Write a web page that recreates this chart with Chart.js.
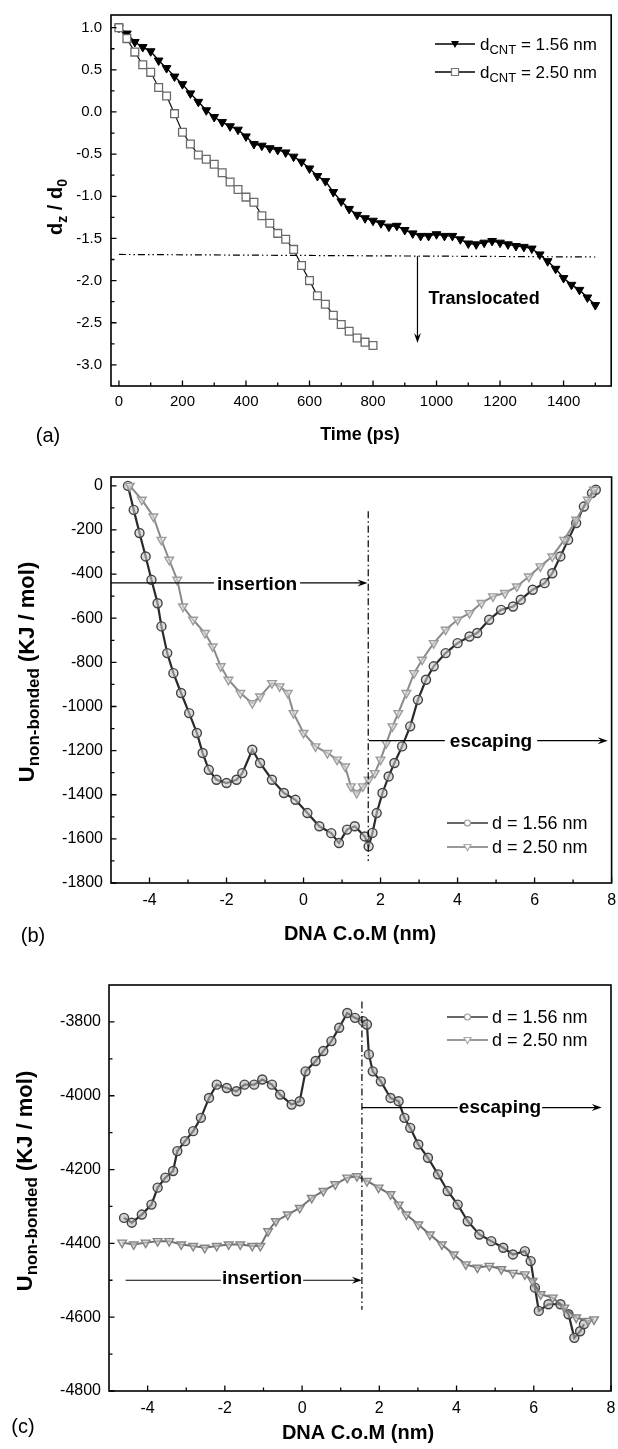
<!DOCTYPE html>
<html>
<head>
<meta charset="utf-8">
<script src="https://cdn.jsdelivr.net/npm/chart.js@4.4.1/dist/chart.umd.min.js"></script>
<style>
  body { margin: 0; background: #fff; width: 618px; height: 1449px; overflow: hidden; position: relative; }
  canvas { position: absolute; left: 0; }
</style>
</head>
<body>
<canvas id="ca" width="618" height="470" style="top:0"></canvas>
<canvas id="cb" width="618" height="505" style="top:470px"></canvas>
<canvas id="cc" width="618" height="474" style="top:975px"></canvas>
<script>
// ---- panel (a): d_z / d_0 vs time ----
const aTime = [0,25,50,75,100,125,150,175,200,225,250,275,300,325,350,375,400,425,450,475,500,525,550,575,600,625,650,675,700,725,750,775,800,825,850,875,900,925,950,975,1000,1025,1050,1075,1100,1125,1150,1175,1200,1225,1250,1275,1300,1325,1350,1375,1400,1425,1450,1475,1500];
const aCnt156 = [1.00,0.93,0.83,0.77,0.72,0.61,0.52,0.42,0.33,0.22,0.12,0.02,-0.06,-0.12,-0.17,-0.21,-0.29,-0.38,-0.40,-0.43,-0.45,-0.48,-0.53,-0.59,-0.67,-0.76,-0.82,-0.95,-1.06,-1.15,-1.22,-1.26,-1.29,-1.32,-1.36,-1.35,-1.40,-1.44,-1.47,-1.47,-1.45,-1.47,-1.47,-1.51,-1.56,-1.57,-1.55,-1.53,-1.55,-1.57,-1.59,-1.60,-1.62,-1.69,-1.77,-1.86,-1.97,-2.05,-2.11,-2.20,-2.29];
const aTime250 = [0,25,50,75,100,125,150,175,200,225,250,275,300,325,350,375,400,425,450,475,500,525,550,575,600,625,650,675,700,725,750,775,800];
const aCnt250 = [1.00,0.87,0.71,0.56,0.47,0.29,0.19,-0.02,-0.24,-0.38,-0.51,-0.56,-0.62,-0.72,-0.83,-0.92,-1.01,-1.07,-1.23,-1.32,-1.44,-1.51,-1.63,-1.82,-2.00,-2.18,-2.28,-2.41,-2.52,-2.60,-2.68,-2.73,-2.77];
const aXTicks = [0,200,400,600,800,1000,1200,1400];
const aXLabels = ['0','200','400','600','800','1000','1200','1400'];
const aXMinor = [100,300,500,700,900,1100,1300,1500];
const aYTicks = [-3.0,-2.5,-2.0,-1.5,-1.0,-0.5,0.0,0.5,1.0];
const aYLabels = ['-3.0','-2.5','-2.0','-1.5','-1.0','-0.5','0.0','0.5','1.0'];
const aYMinor = [-2.75,-2.25,-1.75,-1.25,-0.75,-0.25,0.25,0.75];

// ---- panel (b): U non-bonded vs DNA C.o.M ----
const bD156X = [-4.56,-4.41,-4.26,-4.10,-3.95,-3.79,-3.69,-3.54,-3.38,-3.18,-2.97,-2.77,-2.62,-2.46,-2.26,-2.00,-1.74,-1.59,-1.33,-1.13,-0.82,-0.51,-0.21,0.10,0.41,0.72,0.92,1.13,1.33,1.59,1.69,1.79,1.90,2.05,2.21,2.36,2.56,2.77,2.97,3.18,3.38,3.69,4.00,4.31,4.51,4.82,5.13,5.44,5.64,5.95,6.26,6.46,6.67,6.87,7.08,7.28,7.49,7.59];
const bD156Y = [0,-109,-214,-320,-426,-532,-637,-758,-849,-939,-1030,-1120,-1211,-1287,-1332,-1347,-1332,-1302,-1196,-1256,-1332,-1392,-1423,-1483,-1543,-1574,-1619,-1558,-1543,-1589,-1634,-1573,-1483,-1392,-1317,-1256,-1181,-1090,-970,-879,-818,-758,-713,-683,-667,-607,-562,-547,-516,-471,-441,-396,-320,-245,-169,-94,-33,-18];
const bD250X = [-4.51,-4.20,-3.90,-3.69,-3.49,-3.28,-3.13,-2.87,-2.56,-2.36,-2.15,-1.95,-1.64,-1.33,-1.13,-0.82,-0.62,-0.41,-0.26,0.00,0.31,0.62,0.87,1.08,1.23,1.38,1.54,1.69,1.85,2.00,2.15,2.31,2.46,2.67,2.87,3.08,3.38,3.69,4.00,4.31,4.62,4.92,5.23,5.54,5.85,6.15,6.46,6.77,7.08,7.38,7.54];
const bD250Y = [0,-63,-139,-245,-335,-426,-547,-607,-667,-728,-818,-879,-939,-985,-955,-894,-909,-939,-1030,-1120,-1181,-1211,-1241,-1272,-1362,-1392,-1362,-1332,-1302,-1241,-1166,-1090,-1030,-939,-849,-788,-713,-652,-607,-577,-531,-501,-486,-456,-411,-365,-320,-245,-154,-63,-18];
const bXTicks = [-4,-2,0,2,4,6,8];
const bXLabels = ['-4','-2','0','2','4','6','8'];
const bXMinor = [-3,-1,1,3,5,7];
const bYTicks = [-1800,-1600,-1400,-1200,-1000,-800,-600,-400,-200,0];
const bYLabels = ['-1800','-1600','-1400','-1200','-1000','-800','-600','-400','-200','0'];
const bYMinor = [-1700,-1500,-1300,-1100,-900,-700,-500,-300,-100];

// ---- panel (c) ----
const cD156X = [-4.61,-4.41,-4.15,-3.90,-3.74,-3.54,-3.34,-3.23,-3.03,-2.82,-2.62,-2.41,-2.21,-1.95,-1.70,-1.49,-1.24,-1.03,-0.78,-0.57,-0.27,-0.06,0.09,0.35,0.55,0.76,0.96,1.17,1.37,1.58,1.68,1.73,1.83,2.04,2.29,2.50,2.65,2.80,3.01,3.26,3.52,3.77,4.03,4.29,4.59,4.90,5.21,5.46,5.77,5.92,6.03,6.13,6.38,6.69,6.90,7.05,7.20,7.30];
const cD156Y = [-4331,-4344,-4322,-4295,-4249,-4222,-4204,-4150,-4123,-4096,-4060,-4006,-3970,-3979,-3988,-3970,-3970,-3956,-3970,-3997,-4024,-4015,-3934,-3906,-3879,-3852,-3816,-3776,-3789,-3798,-3807,-3888,-3934,-3961,-4006,-4015,-4060,-4087,-4132,-4168,-4213,-4258,-4295,-4340,-4376,-4394,-4412,-4430,-4421,-4448,-4520,-4583,-4565,-4565,-4592,-4656,-4638,-4619];
const cD250X = [-4.66,-4.36,-4.05,-3.74,-3.44,-3.13,-2.82,-2.52,-2.21,-1.90,-1.60,-1.29,-1.08,-0.88,-0.68,-0.37,-0.06,0.25,0.55,0.86,1.17,1.42,1.68,1.98,2.29,2.50,2.70,3.01,3.31,3.62,3.93,4.24,4.54,4.85,5.16,5.46,5.77,5.97,6.18,6.49,6.79,7.10,7.41,7.56];
const cD250Y = [-4398,-4403,-4398,-4394,-4394,-4403,-4407,-4412,-4407,-4403,-4403,-4407,-4407,-4367,-4340,-4322,-4304,-4277,-4258,-4240,-4222,-4218,-4231,-4249,-4267,-4295,-4322,-4349,-4376,-4403,-4430,-4457,-4466,-4461,-4470,-4480,-4484,-4502,-4538,-4547,-4574,-4601,-4610,-4606];
const cXTicks = [-4,-2,0,2,4,6,8];
const cXLabels = ['-4','-2','0','2','4','6','8'];
const cXMinor = [-3,-1,1,3,5,7];
const cYTicks = [-4800,-4600,-4400,-4200,-4000,-3800];
const cYLabels = ['-4800','-4600','-4400','-4200','-4000','-3800'];
const cYMinor = [-4700,-4500,-4300,-4100,-3900];

const FF = '"Liberation Sans", Arial, Helvetica, sans-serif';
Chart.defaults.font.family = FF;
Chart.defaults.color = '#000';

const pts = (xs, ys) => xs.map((x, i) => ({x: x, y: ys[i]}));

function makeScales(o) {
  return {
    x: {
      type: 'linear', min: o.xMin, max: o.xMax,
      grid: {display: false, drawTicks: false}, border: {display: false},
      ticks: {padding: o.xPad, font: {size: o.fs}, color: '#000', maxRotation: 0, autoSkip: false,
              callback: (v, i) => o.xLabels[i]},
      afterBuildTicks: s => { s.ticks = o.xTicks.map(v => ({value: v})); },
      afterFit: s => { s.height = o.xH; s.paddingLeft = 0; s.paddingRight = 0; }
    },
    y: {
      type: 'linear', min: o.yMin, max: o.yMax,
      grid: {display: false, drawTicks: false}, border: {display: false},
      ticks: {padding: o.yPad, font: {size: o.fs}, color: '#000', autoSkip: false,
              callback: (v, i) => o.yLabels[i]},
      afterBuildTicks: s => { s.ticks = o.yTicks.map(v => ({value: v})); },
      afterFit: s => { s.width = o.yW; s.paddingTop = 0; s.paddingBottom = 0; }
    }
  };
}

function txt(ctx, parts, x, y, align) {
  ctx.textBaseline = 'alphabetic';
  ctx.textAlign = 'left';
  let w = 0;
  parts.forEach(p => {
    ctx.font = (p.b ? 'bold ' : '') + p.s + 'px ' + FF;
    p.w = ctx.measureText(p.t).width;
    w += p.w;
  });
  let cx = align === 'center' ? x - w / 2 : (align === 'right' ? x - w : x);
  parts.forEach(p => {
    ctx.font = (p.b ? 'bold ' : '') + p.s + 'px ' + FF;
    ctx.fillText(p.t, cx, y + (p.dy || 0));
    cx += p.w;
  });
  return w;
}

function vtxt(ctx, parts, x, y) {
  ctx.save();
  ctx.translate(x, y);
  ctx.rotate(-Math.PI / 2);
  txt(ctx, parts, 0, 0, 'center');
  ctx.restore();
}

function arrow(ctx, x1, y1, x2, y2) {
  const head = 10, half = 3.5;
  const a = Math.atan2(y2 - y1, x2 - x1);
  const c = Math.cos(a), s = Math.sin(a);
  ctx.beginPath();
  ctx.moveTo(x1, y1);
  ctx.lineTo(x2 - head * 0.6 * c, y2 - head * 0.6 * s);
  ctx.stroke();
  ctx.beginPath();
  ctx.moveTo(x2, y2);
  ctx.lineTo(x2 - head * c - half * s, y2 - head * s + half * c);
  ctx.lineTo(x2 - head * 0.65 * c, y2 - head * 0.65 * s);
  ctx.lineTo(x2 - head * c + half * s, y2 - head * s - half * c);
  ctx.closePath();
  ctx.fill();
}

function frameTicks(chart, xMaj, xMin, yMaj, yMin) {
  const ctx = chart.ctx, a = chart.chartArea, xs = chart.scales.x, ys = chart.scales.y;
  ctx.save();
  ctx.strokeStyle = '#000';
  ctx.lineWidth = 1.6;
  ctx.strokeRect(a.left, a.top, a.right - a.left, a.bottom - a.top);
  ctx.lineWidth = 1.3;
  ctx.beginPath();
  xMaj.forEach(v => { const p = xs.getPixelForValue(v); ctx.moveTo(p, a.bottom); ctx.lineTo(p, a.bottom - 5.5); });
  xMin.forEach(v => { const p = xs.getPixelForValue(v); ctx.moveTo(p, a.bottom); ctx.lineTo(p, a.bottom - 3.5); });
  yMaj.forEach(v => { const p = ys.getPixelForValue(v); ctx.moveTo(a.left, p); ctx.lineTo(a.left + 5.5, p); });
  yMin.forEach(v => { const p = ys.getPixelForValue(v); ctx.moveTo(a.left, p); ctx.lineTo(a.left + 3.5, p); });
  ctx.stroke();
  ctx.restore();
}

function marker(ctx, kind, x, y) {
  ctx.save();
  ctx.lineWidth = 1.2;
  ctx.beginPath();
  if (kind === 'tri') {
    ctx.moveTo(x - 4, y - 3); ctx.lineTo(x + 4, y - 3); ctx.lineTo(x, y + 4); ctx.closePath();
    ctx.fillStyle = '#000'; ctx.fill();
  } else if (kind === 'sq') {
    ctx.rect(x - 3.5, y - 3.5, 7, 7);
    ctx.fillStyle = '#fff'; ctx.fill(); ctx.strokeStyle = '#777'; ctx.stroke();
  } else if (kind === 'circ') {
    ctx.arc(x, y, 3, 0, Math.PI * 2);
    ctx.fillStyle = '#fff'; ctx.fill(); ctx.strokeStyle = '#999'; ctx.stroke();
  } else {
    ctx.moveTo(x - 3.5, y - 2.5); ctx.lineTo(x + 3.5, y - 2.5); ctx.lineTo(x, y + 3.5); ctx.closePath();
    ctx.fillStyle = '#fff'; ctx.fill(); ctx.strokeStyle = '#aaa'; ctx.stroke();
  }
  ctx.restore();
}

function legendRow(ctx, kind, lineColor, x1, x2, y, parts, tx) {
  ctx.save();
  ctx.strokeStyle = lineColor;
  ctx.lineWidth = 1.5;
  ctx.beginPath(); ctx.moveTo(x1, y); ctx.lineTo(x2, y); ctx.stroke();
  marker(ctx, kind, (x1 + x2) / 2, y);
  ctx.fillStyle = '#000';
  txt(ctx, parts, tx, y + 6, 'left');
  ctx.restore();
}

const common = {
  responsive: false,
  animation: false,
  devicePixelRatio: 1,
  events: [],
  plugins: {legend: {display: false}, tooltip: {enabled: false}}
};

// ---------------- chart (a) ----------------
new Chart(document.getElementById('ca'), {
  type: 'scatter',
  data: {
    datasets: [
      {data: pts(aTime250, aCnt250), showLine: true, borderColor: '#111', borderWidth: 1.2,
       pointStyle: 'rect', pointRadius: 5.5, pointBorderColor: '#6a6a6a', pointBackgroundColor: '#fff', pointBorderWidth: 1.3},
      {data: pts(aTime, aCnt156), showLine: true, borderColor: '#000', borderWidth: 1.4,
       pointStyle: 'triangle', pointRotation: 180, pointRadius: 5, pointBorderColor: '#000', pointBackgroundColor: '#000', pointBorderWidth: 1}
    ]
  },
  options: Object.assign({}, common, {
    layout: {padding: {top: 15, right: 6, left: 0, bottom: 0}},
    scales: makeScales({xMin: -25, xMax: 1550, xTicks: aXTicks, xLabels: aXLabels, xPad: 7, xH: 84,
                        yMin: -3.25, yMax: 1.15, yTicks: aYTicks, yLabels: aYLabels, yPad: 9, yW: 111, fs: 15})
  }),
  plugins: [{
    id: 'decoA',
    afterDraw(chart) {
      const ctx = chart.ctx, xs = chart.scales.x, ys = chart.scales.y;
      frameTicks(chart, aXTicks, aXMinor, aYTicks, aYMinor);
      ctx.save();
      ctx.strokeStyle = '#000'; ctx.fillStyle = '#000'; ctx.lineWidth = 1.2;
      ctx.setLineDash([7, 3, 1.5, 3, 1.5, 3]);
      ctx.beginPath();
      ctx.moveTo(xs.getPixelForValue(0), ys.getPixelForValue(-1.69));
      ctx.lineTo(xs.getPixelForValue(1500), ys.getPixelForValue(-1.72));
      ctx.stroke();
      ctx.setLineDash([]);
      arrow(ctx, xs.getPixelForValue(940), ys.getPixelForValue(-1.71), xs.getPixelForValue(940), ys.getPixelForValue(-2.74));
      txt(ctx, [{t: 'Translocated', s: 18, b: 1}], xs.getPixelForValue(975), ys.getPixelForValue(-2.2) + 6.5, 'left');
      legendRow(ctx, 'tri', '#000', 435, 475, 44,
        [{t: 'd', s: 17}, {t: 'CNT', s: 13, dy: 4}, {t: ' = 1.56 nm', s: 17}], 480);
      legendRow(ctx, 'sq', '#000', 435, 475, 72,
        [{t: 'd', s: 17}, {t: 'CNT', s: 13, dy: 4}, {t: ' = 2.50 nm', s: 17}], 480);
      vtxt(ctx, [{t: 'd', s: 20, b: 1}, {t: 'z', s: 14, b: 1, dy: 5}, {t: ' / d', s: 20, b: 1}, {t: '0', s: 14, b: 1, dy: 5}], 62, 207);
      txt(ctx, [{t: 'Time (ps)', s: 18, b: 1}], 360, 439.5, 'center');
      txt(ctx, [{t: '(a)', s: 20}], 48, 442, 'center');
      ctx.restore();
    }
  }]
});

// ---------------- chart (b) ----------------
new Chart(document.getElementById('cb'), {
  type: 'scatter',
  data: {
    datasets: [
      {data: pts(bD250X, bD250Y), showLine: true, borderColor: '#8a8a8a', borderWidth: 2,
       pointStyle: 'triangle', pointRotation: 180, pointRadius: 5, pointBorderColor: '#9c9c9c',
       pointBackgroundColor: 'rgba(225,225,225,0.6)', pointBorderWidth: 1.4},
      {data: pts(bD156X, bD156Y), showLine: true, borderColor: '#2a2a2a', borderWidth: 2.2,
       pointStyle: 'circle', pointRadius: 4.5, pointBorderColor: '#444',
       pointBackgroundColor: 'rgba(200,200,200,0.6)', pointBorderWidth: 1.4}
    ]
  },
  options: Object.assign({}, common, {
    layout: {padding: {top: 7, right: 6, left: 0, bottom: 0}},
    scales: makeScales({xMin: -5, xMax: 8, xTicks: bXTicks, xLabels: bXLabels, xPad: 8, xH: 92,
                        yMin: -1800, yMax: 40, yTicks: bYTicks, yLabels: bYLabels, yPad: 8, yW: 111, fs: 16})
  }),
  plugins: [{
    id: 'decoB',
    afterDraw(chart) {
      const ctx = chart.ctx, xs = chart.scales.x, ys = chart.scales.y, a = chart.chartArea;
      frameTicks(chart, bXTicks, bXMinor, bYTicks, bYMinor);
      ctx.save();
      ctx.strokeStyle = '#000'; ctx.fillStyle = '#000'; ctx.lineWidth = 1.2;
      // dash-dot divider
      ctx.setLineDash([7, 3, 1.5, 3]);
      ctx.beginPath();
      ctx.moveTo(xs.getPixelForValue(1.68), ys.getPixelForValue(-115));
      ctx.lineTo(xs.getPixelForValue(1.68), ys.getPixelForValue(-1700));
      ctx.stroke();
      ctx.setLineDash([]);
      // insertion
      let yl = ys.getPixelForValue(-440), cx = 257;
      ctx.font = 'bold 19px ' + FF;
      let w = ctx.measureText('insertion').width;
      ctx.beginPath(); ctx.moveTo(a.left, yl); ctx.lineTo(cx - w / 2 - 3, yl); ctx.stroke();
      arrow(ctx, cx + w / 2 + 3, yl, xs.getPixelForValue(1.66), yl);
      txt(ctx, [{t: 'insertion', s: 19, b: 1}], cx, yl + 7, 'center');
      // escaping
      yl = ys.getPixelForValue(-1155); cx = 491;
      w = ctx.measureText('escaping').width;
      ctx.beginPath(); ctx.moveTo(xs.getPixelForValue(1.7), yl); ctx.lineTo(cx - w / 2 - 5, yl); ctx.stroke();
      arrow(ctx, cx + w / 2 + 5, yl, xs.getPixelForValue(7.9), yl);
      txt(ctx, [{t: 'escaping', s: 19, b: 1}], cx, yl + 6, 'center');
      legendRow(ctx, 'circ', '#333', 447, 488, 353, [{t: 'd = 1.56 nm', s: 18}], 492);
      legendRow(ctx, 'dtri', '#777', 447, 488, 377, [{t: 'd = 2.50 nm', s: 18}], 492);
      vtxt(ctx, [{t: 'U', s: 22, b: 1}, {t: 'non-bonded', s: 17, b: 1, dy: 5}, {t: ' (KJ / mol)', s: 22, b: 1}], 34, 202);
      txt(ctx, [{t: 'DNA C.o.M (nm)', s: 20, b: 1}], 360, 470, 'center');
      txt(ctx, [{t: '(b)', s: 20}], 33, 472, 'center');
      ctx.restore();
    }
  }]
});

// ---------------- chart (c) ----------------
new Chart(document.getElementById('cc'), {
  type: 'scatter',
  data: {
    datasets: [
      {data: pts(cD250X, cD250Y), showLine: true, borderColor: '#707070', borderWidth: 2,
       pointStyle: 'triangle', pointRotation: 180, pointRadius: 5, pointBorderColor: '#858585',
       pointBackgroundColor: 'rgba(210,210,210,0.6)', pointBorderWidth: 1.4},
      {data: pts(cD156X, cD156Y), showLine: true, borderColor: '#2a2a2a', borderWidth: 2.2,
       pointStyle: 'circle', pointRadius: 4.5, pointBorderColor: '#444',
       pointBackgroundColor: 'rgba(180,180,180,0.6)', pointBorderWidth: 1.4}
    ]
  },
  options: Object.assign({}, common, {
    layout: {padding: {top: 10, right: 7, left: 0, bottom: 0}},
    scales: makeScales({xMin: -5, xMax: 8, xTicks: cXTicks, xLabels: cXLabels, xPad: 8, xH: 58,
                        yMin: -4800, yMax: -3700, yTicks: cYTicks, yLabels: cYLabels, yPad: 8, yW: 109, fs: 16})
  }),
  plugins: [{
    id: 'decoC',
    afterDraw(chart) {
      const ctx = chart.ctx, xs = chart.scales.x, ys = chart.scales.y;
      frameTicks(chart, cXTicks, cXMinor, cYTicks, cYMinor);
      ctx.save();
      ctx.strokeStyle = '#000'; ctx.fillStyle = '#000'; ctx.lineWidth = 1.2;
      ctx.setLineDash([7, 3, 1.5, 3]);
      ctx.beginPath();
      ctx.moveTo(xs.getPixelForValue(1.55), ys.getPixelForValue(-3745));
      ctx.lineTo(xs.getPixelForValue(1.55), ys.getPixelForValue(-4580));
      ctx.stroke();
      ctx.setLineDash([]);
      ctx.font = 'bold 19px ' + FF;
      // escaping
      let yl = ys.getPixelForValue(-4032), cx = 500;
      let w = ctx.measureText('escaping').width;
      ctx.beginPath(); ctx.moveTo(xs.getPixelForValue(1.55), yl); ctx.lineTo(cx - w / 2 - 1, yl); ctx.stroke();
      arrow(ctx, cx + w / 2 + 1, yl, xs.getPixelForValue(7.76), yl);
      txt(ctx, [{t: 'escaping', s: 19, b: 1}], cx, yl + 5, 'center');
      // insertion
      yl = ys.getPixelForValue(-4500); cx = 262;
      w = ctx.measureText('insertion').width;
      ctx.beginPath(); ctx.moveTo(xs.getPixelForValue(-4.57), yl); ctx.lineTo(cx - w / 2 - 1, yl); ctx.stroke();
      arrow(ctx, cx + w / 2 + 1, yl, xs.getPixelForValue(1.55), yl);
      txt(ctx, [{t: 'insertion', s: 19, b: 1}], cx, yl + 4, 'center');
      legendRow(ctx, 'circ', '#333', 447, 488, 42, [{t: 'd = 1.56 nm', s: 18}], 492);
      legendRow(ctx, 'dtri', '#777', 447, 488, 65, [{t: 'd = 2.50 nm', s: 18}], 492);
      vtxt(ctx, [{t: 'U', s: 22, b: 1}, {t: 'non-bonded', s: 17, b: 1, dy: 5}, {t: ' (KJ / mol)', s: 22, b: 1}], 32, 206);
      txt(ctx, [{t: 'DNA C.o.M (nm)', s: 20, b: 1}], 358, 464, 'center');
      txt(ctx, [{t: '(c)', s: 20}], 23, 458, 'center');
      ctx.restore();
    }
  }]
});
</script>
</body>
</html>
